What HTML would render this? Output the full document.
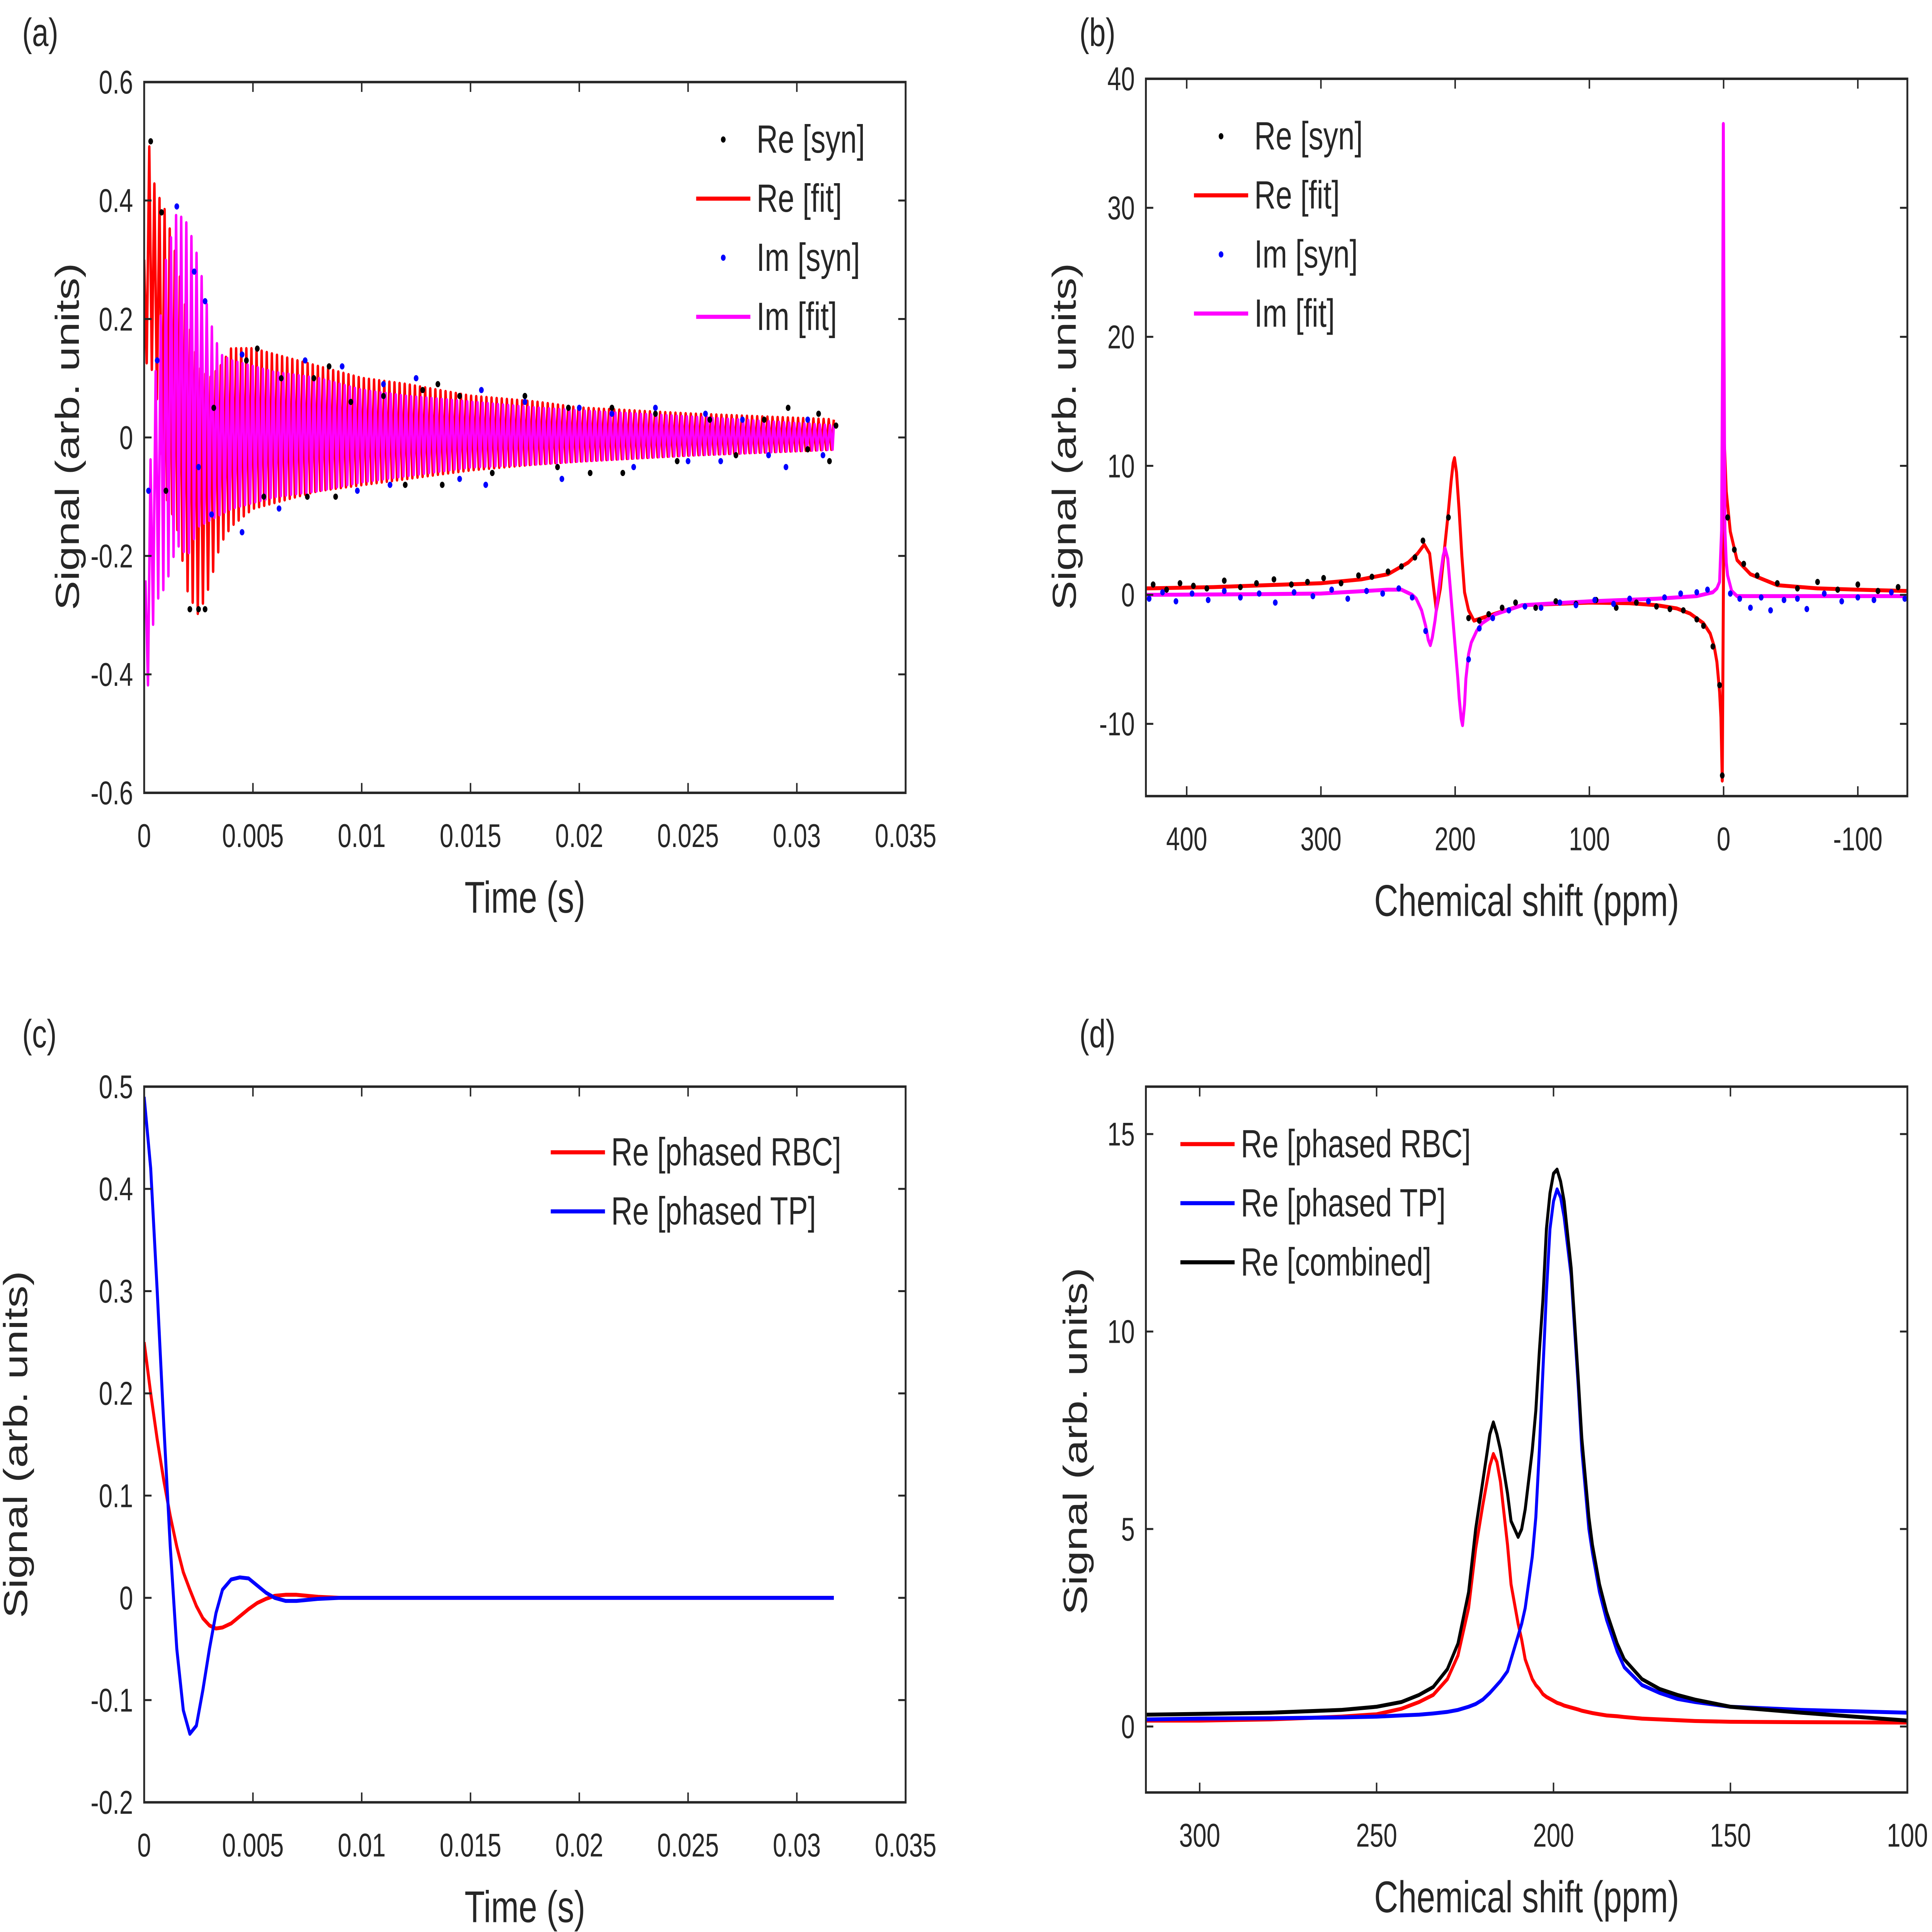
<!DOCTYPE html>
<html><head><meta charset="utf-8">
<style>
html,body{margin:0;padding:0;background:#fff;overflow:hidden;width:100%;height:100%;}
svg{display:block;width:100vw;height:100vh;font-family:"Liberation Sans",Arial,sans-serif;}
text{fill:#262626;}
</style></head>
<body>
<svg id="fig" xmlns="http://www.w3.org/2000/svg" viewBox="0 0 1568 1177" preserveAspectRatio="none"></svg>
<script>
// ---------- Panel (a): FID envelopes & samples ----------
const fidT   = [0,0.0002,0.0005,0.001,0.0015,0.002,0.0025,0.003,0.0035,0.004,0.005,0.006,0.008,0.01,0.012,0.015,0.018,0.02,0.025,0.0317];
const reFitHi= [0.3,0.5,0.42,0.38,0.3,0.2,0.12,0.1,0.12,0.15,0.15,0.14,0.12,0.1,0.09,0.07,0.06,0.05,0.04,0.03];
const reFitLo= [0.12,0.13,0.1,-0.1,-0.15,-0.26,-0.3,-0.25,-0.18,-0.15,-0.12,-0.11,-0.09,-0.08,-0.07,-0.055,-0.045,-0.04,-0.03,-0.02];
const imFitHi= [-0.3,-0.1,0.1,0.3,0.38,0.36,0.3,0.2,0.14,0.13,0.12,0.11,0.1,0.08,0.07,0.06,0.05,0.045,0.035,0.02];
const imFitLo= [-0.55,-0.4,-0.28,-0.25,-0.18,-0.2,-0.15,-0.14,-0.13,-0.12,-0.11,-0.1,-0.09,-0.075,-0.065,-0.05,-0.045,-0.04,-0.03,-0.02];
const reSynT = [0.0003,0.0008,0.001,0.0021,0.0025,0.0028,0.0032,0.0047,0.0052,0.0055,0.0063,0.0075,0.0078,0.0085,0.0088,0.0095,0.011,0.012,0.0128,0.0135,0.0137,0.0145,0.016,0.0175,0.019,0.0195,0.0205,0.0215,0.022,0.0235,0.0245,0.026,0.0272,0.0285,0.0296,0.0305,0.031,0.0315,0.0318];
const reSynV = [0.5,0.38,-0.09,-0.29,-0.29,-0.29,0.05,0.13,0.15,-0.1,0.1,-0.1,0.1,0.12,-0.1,0.06,0.07,-0.08,0.08,0.09,-0.08,0.07,-0.06,0.07,-0.05,0.05,-0.06,0.05,-0.06,0.04,-0.04,0.03,-0.03,0.03,0.05,-0.02,0.04,-0.04,0.02];
const imSynT = [0.0002,0.0006,0.0015,0.0023,0.0025,0.0028,0.0031,0.0045,0.0045,0.0062,0.0074,0.0091,0.0098,0.011,0.0113,0.0125,0.0145,0.0155,0.0157,0.0175,0.0192,0.02,0.0215,0.0225,0.0235,0.025,0.0258,0.0265,0.0275,0.0287,0.0295,0.0305,0.0312];
const imSynV = [-0.09,0.13,0.39,0.28,-0.05,0.23,-0.13,-0.16,0.14,-0.12,0.13,0.12,-0.09,0.09,-0.08,0.1,-0.07,0.08,-0.08,0.06,-0.07,0.05,0.04,-0.05,0.05,-0.04,0.04,-0.04,0.03,-0.03,-0.05,0.03,-0.03];
const timeTicks = [0,0.005,0.01,0.015,0.02,0.025,0.03,0.035];
const timeTickLabels = ["0","0.005","0.01","0.015","0.02","0.025","0.03","0.035"];
const aYTicks = [-0.6,-0.4,-0.2,0,0.2,0.4,0.6];
const aYTickLabels = ["-0.6","-0.4","-0.2","0","0.2","0.4","0.6"];

// ---------- Panel (b): spectrum ----------
const bReP = [430,380,340,300,270,250,235,228,223,219,216,214,211,208,205,203,201.5,200.5,199,197,195,193,190,186,180,170,150,100,70,50,35,25,15,10,7,5,3,2,1,0.3,-0.5,-2,-5,-10,-20,-40,-70,-100,-137];
const bReV = [0.5,0.6,0.75,0.9,1.2,1.6,2.5,3.2,3.9,3.2,0.5,-1.2,0.5,3.5,6.5,8.8,10.2,10.6,9.5,6.5,3.0,0.2,-1.2,-2.0,-1.8,-1.45,-0.8,-0.6,-0.65,-0.8,-1.05,-1.45,-2.2,-3.0,-4.0,-5.2,-7.5,-9.5,-14.4,-2,11.9,8,4.9,2.7,1.6,0.75,0.5,0.4,0.3];
const bImP = [430,350,300,250,240,232,229,225,222,220,218.5,217,215,213,211,209,207.5,205.5,204,202,200,198,197,195.5,194.5,193,192,190,188,184,180,170,150,100,50,20,8,5,3,1.5,0.7,0.2,-0.3,-1,-2,-3,-6,-10,-137];
const bImV = [0,0.05,0.1,0.4,0.4,0.0,-0.3,-1.2,-2.4,-3.5,-3.9,-3.3,-2.0,-0.3,1.5,3.0,3.6,2.8,1.0,-1.5,-4.0,-6.5,-8.0,-9.6,-10.1,-8.5,-6.5,-4.6,-3.7,-2.8,-2.2,-1.5,-0.8,-0.5,-0.3,-0.1,0.2,0.5,1.0,5,20,36.5,20,5,2.5,1.5,0.3,-0.1,-0.1];
const bReSynP = [425,415,405,395,385,372,360,348,335,322,310,298,285,272,262,250,240,230,224,205,190,182,175,165,155,140,125,110,95,80,65,50,40,30,20,15,8,3,1,-3,-8,-15,-25,-40,-55,-70,-85,-100,-115,-130];
const bReSynV = [0.8,0.4,0.9,0.7,0.5,1.1,0.6,0.9,1.2,0.8,1.0,1.3,0.9,1.5,1.4,1.8,2.2,2.9,4.2,6,-1.8,-2,-1.5,-1.0,-0.6,-1.0,-0.5,-0.7,-0.4,-1.0,-0.6,-0.9,-1.1,-1.2,-1.9,-2.4,-4,-7,-14,6,3.5,2.4,1.5,0.9,0.5,1.0,0.4,0.8,0.3,0.6];
const bImSynP = [428,418,408,396,384,372,360,346,334,320,306,292,280,266,254,242,232,222,190,182,172,160,148,136,122,110,96,82,70,56,44,32,20,12,-5,-12,-20,-28,-35,-45,-55,-62,-75,-88,-100,-112,-125,-135];
const bImSynV = [-0.3,0.2,-0.5,0.1,-0.4,0.3,-0.2,0.1,-0.6,0.2,-0.1,0.4,-0.3,0.3,0.1,0.5,-0.2,-2.8,-5,-2.6,-1.8,-1.2,-0.9,-1.0,-0.6,-0.8,-0.4,-0.7,-0.3,-0.5,-0.2,0.1,0.2,0.4,0.1,-0.3,-1.0,-0.2,-1.2,-0.4,-0.3,-1.1,0.1,-0.5,-0.2,-0.4,0.2,-0.3];
const bXTicks = [400,300,200,100,0,-100];
const bXTickLabels = ["400","300","200","100","0","-100"];
const bYTicks = [-10,0,10,20,30,40];
const bYTickLabels = ["-10","0","10","20","30","40"];

// ---------- Panel (c): phased FIDs ----------
const cT   = [0,0.0003,0.0006,0.0009,0.0012,0.0015,0.0018,0.0021,0.0024,0.0027,0.003,0.0033,0.0036,0.004,0.0044,0.0048,0.0052,0.0056,0.006,0.0065,0.007,0.0075,0.008,0.009,0.01,0.012,0.015,0.02,0.025,0.0317];
const cRBC = [0.25,0.2,0.155,0.115,0.08,0.05,0.025,0.008,-0.008,-0.02,-0.027,-0.03,-0.029,-0.025,-0.018,-0.011,-0.005,-0.001,0.002,0.003,0.003,0.002,0.001,0,0,0,0,0,0,0];
const cTP  = [0.49,0.42,0.3,0.17,0.05,-0.05,-0.11,-0.133,-0.125,-0.09,-0.05,-0.015,0.008,0.018,0.02,0.019,0.012,0.005,0,-0.003,-0.003,-0.002,-0.001,0,0,0,0,0,0,0];
const cYTicks = [-0.2,-0.1,0,0.1,0.2,0.3,0.4,0.5];
const cYTickLabels = ["-0.2","-0.1","0","0.1","0.2","0.3","0.4","0.5"];

// ---------- Panel (d): phased spectra ----------
const dP = [315,300,280,260,250,243,238,234,230,227,224,222,220,218,217,216,215,213,212,210,209,208,206,205,204,203,202,201,200,199,198,197,195,193,192,190,189,187,185,182,180,175,170,165,160,150,130,100];
const dRBC = [0.15,0.15,0.18,0.25,0.31,0.45,0.62,0.8,1.2,1.8,3.0,4.5,5.6,6.6,6.9,6.7,6.2,4.6,3.6,2.6,2.2,1.7,1.2,1.05,0.95,0.82,0.75,0.7,0.65,0.6,0.57,0.53,0.48,0.43,0.4,0.36,0.34,0.31,0.28,0.26,0.24,0.2,0.18,0.16,0.14,0.12,0.11,0.1];
const dTP  = [0.18,0.2,0.21,0.23,0.25,0.28,0.3,0.33,0.37,0.42,0.5,0.57,0.68,0.85,0.95,1.05,1.15,1.4,1.7,2.3,2.6,3.0,4.3,5.3,7.0,9.0,11.0,12.6,13.3,13.6,13.4,12.9,11.4,8.6,7.0,5.0,4.4,3.4,2.7,1.9,1.5,1.05,0.85,0.7,0.62,0.5,0.42,0.35];
const dComb= [0.3,0.32,0.35,0.42,0.5,0.62,0.8,1.0,1.45,2.1,3.4,5.0,6.2,7.4,7.7,7.4,7.0,5.9,5.2,4.8,5.0,5.5,7.0,8.0,9.5,10.8,12.6,13.5,14.0,14.1,13.8,13.3,11.6,8.8,7.3,5.3,4.6,3.6,2.9,2.1,1.7,1.2,0.95,0.8,0.68,0.5,0.35,0.15];
const dXTicks = [300,250,200,150,100];
const dXTickLabels = ["300","250","200","150","100"];
const dYTicks = [0,5,10,15];
const dYTickLabels = ["0","5","10","15"];

const NS = "http://www.w3.org/2000/svg";
const svg = document.getElementById('fig');
function mk(tag, attrs, parent){
  const e = document.createElementNS(NS, tag);
  for (const k in attrs) e.setAttribute(k, attrs[k]);
  (parent||svg).appendChild(e);
  return e;
}
function scale(d0,d1,r0,r1){ return v => r0 + (v-d0)/(d1-d0)*(r1-r0); }

function makeAxes(id, box, xd, yd, xt, xtl, yt, ytl, xlabel){
  const g = mk('g', {});
  
  
  const sx = scale(xd[0], xd[1], box.l, box.r);
  const sy = scale(yd[0], yd[1], box.b, box.t);
  const cp = mk('clipPath', {id:'clip-'+id}, g);
  mk('rect', {x:box.l, y:box.t, width:box.r-box.l, height:box.b-box.t}, cp);
  const plot = mk('g', {'clip-path':'url(#clip-'+id+')'}, g);
  
  
  const ax = mk('g', {}, g);
  
  
  xt.forEach((v,i) => {
    const x = sx(v);
    mk('line', {x1:x, x2:x, y1:box.b, y2:box.b-6, stroke:'#262626','stroke-width':1.2}, ax);
    mk('line', {x1:x, x2:x, y1:box.t, y2:box.t+6, stroke:'#262626','stroke-width':1.2}, ax);
    const t = mk('text', {x:x, y:box.b+33, 'font-size':20, 'text-anchor':'middle'}, ax);
    
    
    t.textContent = xtl[i];
  });
  yt.forEach((v,i) => {
    const y = sy(v);
    mk('line', {x1:box.l, x2:box.l+6, y1:y, y2:y, stroke:'#262626','stroke-width':1.2}, ax);
    mk('line', {x1:box.r, x2:box.r-6, y1:y, y2:y, stroke:'#262626','stroke-width':1.2}, ax);
    const t = mk('text', {x:box.l-9, y:y+7, 'font-size':20, 'text-anchor':'end'}, ax);
    
    
    t.textContent = ytl[i];
  });
  const fr = mk('rect', {x:box.l, y:box.t, width:box.r-box.l, height:box.b-box.t, fill:'none', stroke:'#262626','stroke-width':1.5}, ax);
  
  
  const xl = mk('text', {x:(box.l+box.r)/2, y:box.b+73, 'font-size':27, 'text-anchor':'middle'}, ax);
  
  
  xl.textContent = xlabel;
  return {sx, sy, plot, g};
}
function line(parent, xs, ys, sx, sy, color, w, name){
  const d = xs.map((x,i)=>(i?'L':'M')+sx(x).toFixed(2)+' '+sy(ys[i]).toFixed(2)).join(' ');
  const p = mk('path', {d, fill:'none', stroke:color, 'stroke-width':w, 'stroke-linejoin':'round'}, parent);
  
  
}
function dots(parent, xs, ys, sx, sy, color, name){
  const g = mk('g', {fill:color}, parent);
  
  
  xs.forEach((x,i)=>{ mk('circle', {cx:sx(x), cy:sy(ys[i]), r:1.9}, g); });
}
function interp(xs, ys, x){
  for (let i=1;i<xs.length;i++){ if (x<=xs[i]){ const f=(x-xs[i-1])/(xs[i]-xs[i-1]); return ys[i-1]+f*(ys[i]-ys[i-1]); } }
  return ys[ys.length-1];
}
function zig(parent, sx, sy, hi, lo, phase, color, name){
  const tEnd = fidT[fidT.length-1];
  const N = 270;
  let d='';
  for (let i=0;i<=N;i++){
    const t = Math.min(tEnd, (i+phase)/N*tEnd);
    const v = ((i%2)===0) ? interp(fidT, hi, t) : interp(fidT, lo, t);
    d += (i?'L':'M')+sx(t).toFixed(2)+' '+sy(v).toFixed(2)+' ';
  }
  const p = mk('path', {d, fill:'none', stroke:color, 'stroke-width':2, 'stroke-linejoin':'round'}, parent);
  
  
}
function yTitle(x, y){
  const t = mk('text', {x:0, y:0, 'font-size':27, 'text-anchor':'middle', transform:'translate('+x+','+y+') rotate(-90)'});
  
  
  t.textContent = 'Signal (arb. units)';
}
function panelLabel(x, y, s){
  const t = mk('text', {x, y, 'font-size':24});
  
  
  t.textContent = s;
}
function legend(entries, x0, y0, dy, lineLen){
  const g = mk('g', {});
  
  
  entries.forEach((e,i)=>{
    const y = y0 + i*dy;
    const eg = mk('g', {}, g);
    
    
    if (e.dot) mk('circle', {cx:x0+lineLen/2, cy:y, r:1.9, fill:e.color}, eg);
    else mk('line', {x1:x0, x2:x0+lineLen, y1:y, y2:y, stroke:e.color, 'stroke-width':2.5}, eg);
    const t = mk('text', {x:x0+lineLen+5, y:y+8, 'font-size':24}, eg);
    t.textContent = e.label;
  });
}

// Panel a
const A = makeAxes('a', {l:117,r:735,t:50,b:483}, [0,0.035], [-0.6,0.6], timeTicks, timeTickLabels, aYTicks, aYTickLabels, 'Time (s)');
zig(A.plot, A.sx, A.sy, reFitHi, reFitLo, 0, '#ff0000', 're-fit-line');
zig(A.plot, A.sx, A.sy, imFitHi, imFitLo, 0.5, '#ff00ff', 'im-fit-line');
dots(A.plot, reSynT, reSynV, A.sx, A.sy, '#000000', 're-syn-points');
dots(A.plot, imSynT, imSynV, A.sx, A.sy, '#0000ff', 'im-syn-points');
legend([{label:'Re [syn]',color:'#000',dot:true},{label:'Re [fit]',color:'#ff0000'},{label:'Im [syn]',color:'#0000ff',dot:true},{label:'Im [fit]',color:'#ff00ff'}], 565, 85, 36, 44);
yTitle(64, 266);
panelLabel(18, 28, '(a)');

// Panel b
const B = makeAxes('b', {l:930,r:1548,t:48,b:485}, [430.4,-136.9], [-15.6,40], bXTicks, bXTickLabels, bYTicks, bYTickLabels, 'Chemical shift (ppm)');
line(B.plot, bReP, bReV, B.sx, B.sy, '#ff0000', 2.4, 're-fit-line');
line(B.plot, bImP, bImV, B.sx, B.sy, '#ff00ff', 2.4, 'im-fit-line');
dots(B.plot, bReSynP, bReSynV, B.sx, B.sy, '#000000', 're-syn-points');
dots(B.plot, bImSynP, bImSynV, B.sx, B.sy, '#0000ff', 'im-syn-points');
legend([{label:'Re [syn]',color:'#000',dot:true},{label:'Re [fit]',color:'#ff0000'},{label:'Im [syn]',color:'#0000ff',dot:true},{label:'Im [fit]',color:'#ff00ff'}], 969, 83, 36, 44);
yTitle(873, 266);
panelLabel(876, 28, '(b)');

// Panel c
const C = makeAxes('c', {l:117,r:735,t:662,b:1098}, [0,0.035], [-0.2,0.5], timeTicks, timeTickLabels, cYTicks, cYTickLabels, 'Time (s)');
line(C.plot, cT, cRBC, C.sx, C.sy, '#ff0000', 2.4, 're-phased-rbc-line');
line(C.plot, cT, cTP, C.sx, C.sy, '#0000ff', 2.4, 're-phased-tp-line');
legend([{label:'Re [phased RBC]',color:'#ff0000'},{label:'Re [phased TP]',color:'#0000ff'}], 447, 702, 36, 44);
yTitle(22, 880);
panelLabel(18, 638, '(c)');

// Panel d
const D = makeAxes('d', {l:930,r:1548,t:662,b:1092}, [315.2,100], [-1.67,16.2], dXTicks, dXTickLabels, dYTicks, dYTickLabels, 'Chemical shift (ppm)');
line(D.plot, dP, dRBC, D.sx, D.sy, '#ff0000', 2.4, 're-phased-rbc-line');
line(D.plot, dP, dTP, D.sx, D.sy, '#0000ff', 2.4, 're-phased-tp-line');
line(D.plot, dP, dComb, D.sx, D.sy, '#000000', 2.4, 're-combined-line');
legend([{label:'Re [phased RBC]',color:'#ff0000'},{label:'Re [phased TP]',color:'#0000ff'},{label:'Re [combined]',color:'#000000'}], 958, 697, 36, 44);
yTitle(882, 878);
panelLabel(876, 638, '(d)');
</script>
</body></html>
